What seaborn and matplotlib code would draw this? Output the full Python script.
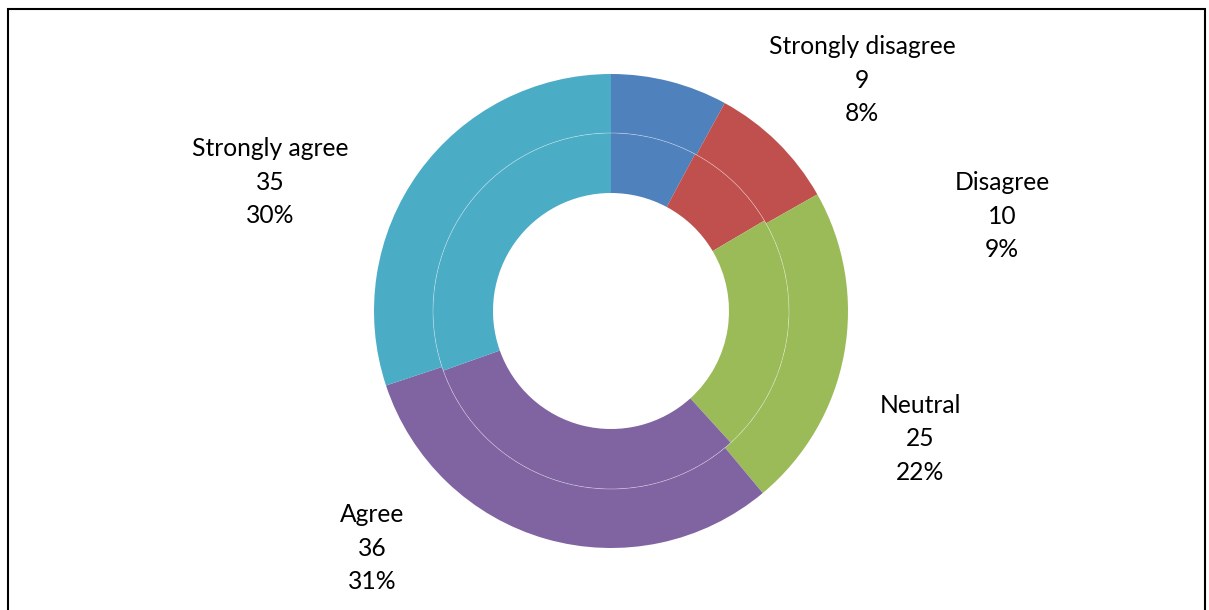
import matplotlib
matplotlib.use("Agg")
import matplotlib.pyplot as plt
import seaborn as sns
from matplotlib.patches import Circle, Rectangle

# data
categories = ["Strongly disagree", "Disagree", "Neutral", "Agree", "Strongly agree"]
inner_counts = [9, 10, 25, 36, 35]
outer_counts = [9, 10, 25, 35, 34]
percents = ["8%", "9%", "22%", "31%", "30%"]

sns.set_style("white")
plt.rcParams["font.family"] = ["Lato", "DejaVu Sans"]

colors = ["#4F81BD", "#C0504D", "#9BBB59", "#8064A2", "#4BACC6"]

fig = plt.figure(figsize=(12.09, 6.10), dpi=100)
ax = fig.add_axes([0, 0, 1, 1])

cx, cy = 611, 610 - 311
R = 237

# outer ring
ax.pie(outer_counts, colors=colors, startangle=90, counterclock=False,
       center=(cx, cy), radius=R, frame=True,
       wedgeprops=dict(width=59, linewidth=0))
# inner ring
ax.pie(inner_counts, colors=colors, startangle=90, counterclock=False,
       center=(cx, cy), radius=178, frame=True,
       wedgeprops=dict(width=60, linewidth=0))
ax.add_patch(Circle((cx, cy), 178, fill=False, edgecolor="white", lw=0.5, alpha=0.45))

ax.set_xlim(0, 1209)
ax.set_ylim(0, 610)
ax.set_aspect("equal")
ax.axis("off")

# label layout (pixel positions of the label blocks)
label_pos = [(862, 80), (1002, 216), (920, 439), (372, 548), (270, 182)]
for name, n, p, (x, y) in zip(categories, inner_counts, percents, label_pos):
    ax.text(x, 610 - y, f"{name}\n{n}\n{p}", ha="center", va="center",
            fontsize=17.7, linespacing=1.53, color="black")

# chart border
fig.patches.append(Rectangle((8 / 1209, -0.05), (1205 - 8) / 1209, (602 + 30) / 610,
                             transform=fig.transFigure, fill=False,
                             edgecolor="black", lw=1.5))

fig.savefig("out.png", dpi=100)
